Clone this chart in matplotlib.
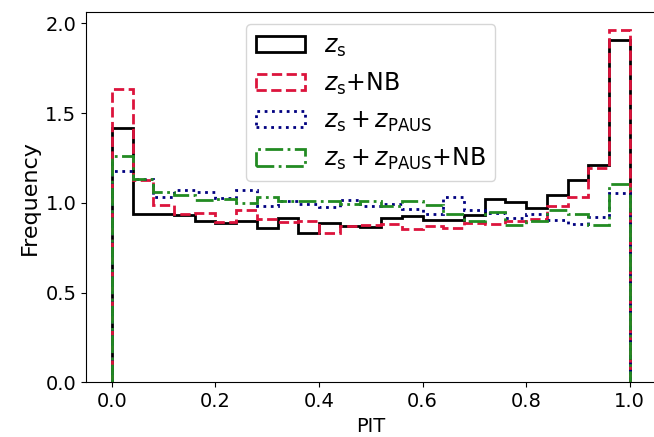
import numpy as np
import matplotlib
matplotlib.use("Agg")
from matplotlib import pyplot as plt

# PIT histogram, 25 bins on [0, 1]
bin_edges = np.linspace(0.0, 1.0, 26)

freq_zs = [1.42, 0.938, 0.938, 0.931, 0.897, 0.888, 0.897, 0.860, 0.918, 0.832,
           0.888, 0.869, 0.866, 0.916, 0.925, 0.907, 0.907, 0.935, 1.022, 1.005,
           0.972, 1.046, 1.126, 1.210, 1.908]
freq_zs_nb = [1.633, 1.130, 0.987, 0.937, 0.943, 0.895, 0.962, 0.912, 0.895, 0.900,
              0.835, 0.870, 0.875, 0.882, 0.856, 0.874, 0.862, 0.888, 0.884, 0.900,
              0.910, 0.981, 1.031, 1.197, 1.964]
freq_zs_paus = [1.177, 1.132, 1.035, 1.071, 1.061, 1.030, 1.071, 0.981, 1.013, 0.994,
                0.978, 1.018, 0.981, 0.994, 0.966, 0.938, 1.031, 0.959, 0.944, 0.916,
                0.938, 0.907, 0.884, 0.920, 1.056]
freq_zs_paus_nb = [1.260, 1.135, 1.061, 1.043, 1.018, 1.022, 1.000, 1.031, 1.009, 1.009,
                   1.009, 0.994, 1.013, 0.985, 1.009, 0.990, 0.940, 0.901, 0.948, 0.879,
                   0.897, 0.959, 0.938, 0.879, 1.108]

labels = [r'$z_{\rm s}$', r'$z_{\rm s}$+NB',
          r'$z_{\rm s}+z_{\rm PAUS}$', r'$z_{\rm s}+z_{\rm PAUS}$+NB']
series = [freq_zs, freq_zs_nb, freq_zs_paus, freq_zs_paus_nb]
colors = ['black', 'crimson', 'navy', 'forestgreen']
styles = ['-', '--', ':', '-.']

fig = plt.figure(figsize=(6.54, 4.37), dpi=100)
ax = fig.add_axes([0.1315, 0.125, 0.871, 0.847])

centers = 0.5 * (bin_edges[:-1] + bin_edges[1:])
for vals, lab, c, ls in zip(series, labels, colors, styles):
    ax.hist(centers, bins=bin_edges, weights=vals, histtype='step',
            color=c, ls=ls, lw=2, label=lab)

ax.set_xlabel('PIT', fontsize=14)
ax.set_ylabel('Frequency', fontsize=16)
ax.tick_params(labelsize=14)
ax.set_xticks([0.0, 0.2, 0.4, 0.6, 0.8, 1.0])
ax.set_yticks([0.0, 0.5, 1.0, 1.5, 2.0])
ax.legend(loc='upper center', fontsize=17, handlelength=2.1)

plt.savefig('out.png', dpi=100)
